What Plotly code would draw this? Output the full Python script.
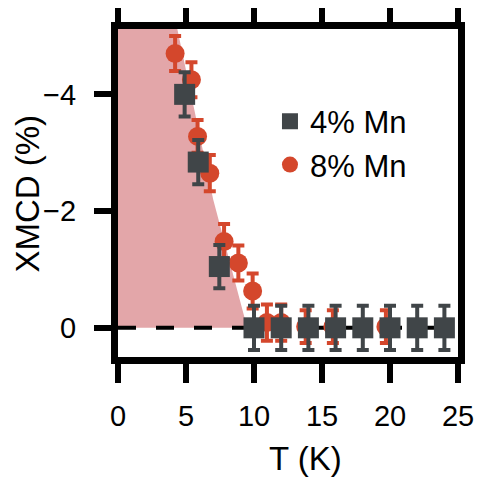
import plotly.graph_objects as go

# 4% Mn (dark grey squares)
t_4 = [4.9, 5.9, 7.45, 10, 12, 14, 16, 18, 20, 22, 24]
xmcd_4 = [-4.0, -2.84, -1.05, 0, 0, 0, 0, 0, 0, 0, 0]
err_4 = [0.38, 0.38, 0.37, 0.38, 0.38, 0.38, 0.38, 0.38, 0.38, 0.38, 0.38]

# 8% Mn (red circles)
t_8 = [4.2, 5.4, 5.85, 6.75, 7.8, 8.85, 9.9, 10.95, 12.0, 13.8, 15.8, 19.7]
xmcd_8 = [-4.7, -4.25, -3.28, -2.65, -1.48, -1.11, -0.63, -0.09, -0.09, -0.02, -0.02, -0.02]
err_8 = [0.3, 0.3, 0.28, 0.31, 0.3, 0.3, 0.3, 0.31, 0.31, 0.28, 0.28, 0.28]

# shaded ferromagnetic region: boundary from T axis up to the top of the frame
edge_t = [0, 9.5, 7.0, 4.2, 0]
edge_xmcd = [0, 0, -2.2, -5.3, -5.3]

x_ticks = [0, 5, 10, 15, 20, 25]
y_ticks = [-4, -2, 0]

GREY = '#404548'
RED = '#d4472c'
PINK = '#e3a6a9'
FONT = 'Liberation Sans, Arial, sans-serif'

fig = go.Figure()

fig.add_trace(go.Scatter(x=edge_t, y=edge_xmcd, mode='none', fill='toself',
                         fillcolor=PINK, showlegend=False, hoverinfo='skip'))
fig.add_trace(go.Scatter(x=[0, 25], y=[0, 0], mode='lines', showlegend=False,
                         line=dict(color='black', width=4, dash='18px,20px'),
                         hoverinfo='skip'))

fig.add_trace(go.Scatter(x=t_8, y=xmcd_8, mode='markers', name='8% Mn',
                         marker=dict(symbol='circle', size=19, color=RED),
                         error_y=dict(type='data', array=err_8, color=RED,
                                      thickness=4, width=6),
                         legendrank=2))
fig.add_trace(go.Scatter(x=t_4, y=xmcd_4, mode='markers', name='4% Mn',
                         marker=dict(symbol='square', size=21, color=GREY),
                         error_y=dict(type='data', array=err_4, color=GREY,
                                      thickness=4, width=6),
                         legendrank=1))

fig.update_xaxes(range=[0, 25], tickvals=x_ticks, ticks='outside', ticklen=19,
                 tickwidth=6, tickcolor='black', showline=True, linewidth=7,
                 linecolor='black', mirror='ticks', showgrid=False, zeroline=False,
                 tickfont=dict(size=29, color='black'), ticklabelstandoff=8)
fig.update_yaxes(range=[0.5, -5.12], tickvals=y_ticks, ticks='outside', ticklen=17,
                 tickwidth=6, tickcolor='black', showline=True, linewidth=7,
                 linecolor='black', mirror=True, showgrid=False, zeroline=False,
                 tickfont=dict(size=29, color='black'), ticklabelstandoff=12)

# axis titles placed as paper annotations (x title sits right of centre)
fig.add_annotation(text='T (K)', x=0.552, y=-0.308, xref='paper', yref='paper',
                   xanchor='center', yanchor='middle',
                   showarrow=False, font=dict(size=33, color='black'))
fig.add_annotation(text='XMCD (%)', x=-0.266, y=0.497, xref='paper', yref='paper',
                   xanchor='center', yanchor='middle', borderpad=0,
                   showarrow=False, textangle=-90, font=dict(size=33, color='black'))

# page body keeps an 8px margin, so the figure is 8px smaller than the window
fig.update_layout(
    width=477, height=469,
    margin=dict(l=110, r=27, t=21, b=120, autoexpand=False),
    plot_bgcolor='white', paper_bgcolor='white',
    font=dict(family=FONT, color='black'),
    legend=dict(x=0.447, y=0.80, xanchor='left', yanchor='top',
                font=dict(size=31), bgcolor='rgba(0,0,0,0)',
                itemsizing='trace'),
)

fig.write_html("out.html")
